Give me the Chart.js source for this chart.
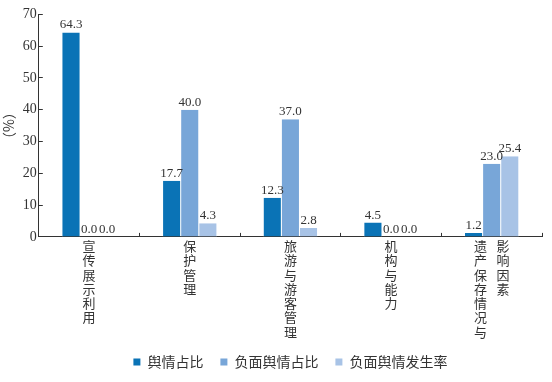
<!DOCTYPE html>
<html><head><meta charset="utf-8">
<script src="https://cdn.jsdelivr.net/npm/chart.js@4/dist/chart.umd.min.js"></script>
<style>html,body{margin:0;padding:0;background:#fff}</style>
</head><body>
<canvas id="c" width="552" height="382" style="width:552px;height:382px;display:block"></canvas>
<script>
const categories = [
  ['宣','传','展','示','利','用'],
  ['保','护','管','理'],
  ['旅','游','与','游','客','管','理'],
  ['机','构','与','能','力'],
  ['遗\u2002 影','产\u2002 响','保\u2002 因','存\u2002 素','情\u2002 \u3000','况\u2002 \u3000','与\u2002 \u3000']
];
const seriesNames = ['舆情占比', '负面舆情占比', '负面舆情发生率'];
const shareAll = [64.3, 17.7, 12.3, 4.5, 1.2];
const shareNeg = [0.0, 40.0, 37.0, 0.0, 23.0];
const rateNeg  = [0.0, 4.3, 2.8, 0.0, 25.4];
const yTicks = [0, 10, 20, 30, 40, 50, 60, 70];
const colors = ['#0a73b6', '#78a6d8', '#a8c3e6'];

const valueLabels = {
  id: 'valueLabels',
  afterDatasetsDraw(chart) {
    const ctx = chart.ctx;
    ctx.save();
    ctx.font = '13px "Liberation Serif", "Times New Roman", serif';
    ctx.fillStyle = '#333';
    ctx.textAlign = 'center';
    ctx.textBaseline = 'bottom';
    chart.data.datasets.forEach((ds, i) => {
      chart.getDatasetMeta(i).data.forEach((el, j) => {
        ctx.fillText(ds.data[j].toFixed(1), el.x, el.y - 1);
      });
    });
    ctx.restore();
  }
};

new Chart(document.getElementById('c'), {
  type: 'bar',
  data: {
    labels: categories,
    datasets: [shareAll, shareNeg, rateNeg].map((d, i) => ({
      label: seriesNames[i],
      data: d,
      backgroundColor: colors[i],
      borderColor: '#ffffff',
      borderWidth: {left: 0.5, right: 0.5, top: 0, bottom: 0},
      borderSkipped: 'bottom',
      categoryPercentage: 0.54,
      barPercentage: 1.0
    }))
  },
  options: {
    responsive: false,
    animation: false,
    devicePixelRatio: 1,
    layout: {padding: {top: 12, right: 10, left: 0, bottom: 3}},
    plugins: {
      tooltip: {enabled: false},
      legend: {
        position: 'bottom',
        fullSize: false,
        labels: {
          boxWidth: 7, boxHeight: 7, padding: 10,
          color: '#333',
          font: {size: 14, family: '"Noto Sans CJK SC", sans-serif'},
          generateLabels(chart) {
            const items = Chart.defaults.plugins.legend.labels.generateLabels(chart);
            items.forEach((it, i) => { it.lineWidth = 0; if (i < items.length - 1) it.text = it.text + '\u2002'; });
            return items;
          }
        }
      }
    },
    scales: {
      x: {
        grid: {display: true, drawOnChartArea: false, offset: true, tickLength: -4, color: '#333'},
        border: {color: '#333', width: 1},
        ticks: {
          color: '#333', maxRotation: 0, autoSkip: false, padding: 6,
          font: {size: 13, family: '"Noto Sans CJK SC", sans-serif', lineHeight: 1.1}
        }
      },
      y: {
        min: 0, max: 70,
        afterBuildTicks(scale) { scale.ticks = yTicks.map(v => ({value: v})); },
        grid: {display: true, drawOnChartArea: false, tickLength: -4, color: '#333'},
        border: {color: '#333', width: 1},
        ticks: {
          color: '#333', padding: 6,
          font: {size: 14, family: '"Liberation Serif", serif'}
        },
        title: {
          display: true, text: '（%）', color: '#333', padding: {top: 0, bottom: 0},
          font: {size: 14, family: '"Noto Sans CJK SC", sans-serif'}
        }
      }
    }
  },
  plugins: [valueLabels]
});
</script>
</body></html>
